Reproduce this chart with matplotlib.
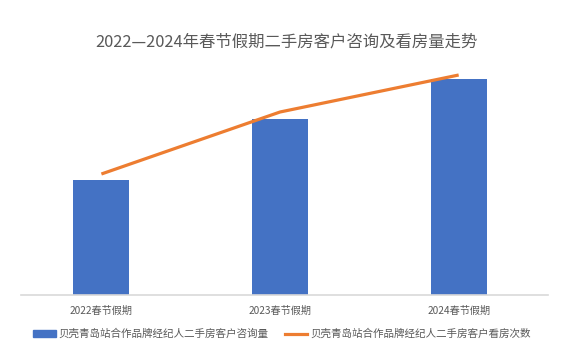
import matplotlib
matplotlib.use("Agg")
import matplotlib.pyplot as plt
from matplotlib.patches import Patch
from matplotlib.lines import Line2D

plt.rcParams['font.family'] = ['Noto Sans CJK SC', 'DejaVu Sans']

categories = ["2022春节假期", "2023春节假期", "2024春节假期"]
consult_values = [115, 176, 216]
viewing_values = [121, 183, 220]
series_names = ["贝壳青岛站合作品牌经纪人二手房客户咨询量", "贝壳青岛站合作品牌经纪人二手房客户看房次数"]
title = "2022—2024年春节假期二手房客户咨询及看房量走势"

blue = "#4472C4"
orange = "#ED7D31"

fig = plt.figure(figsize=(5.71, 3.6), dpi=100)
ax = fig.add_axes([21/571, 65/360, 527/571, 240/360])
x = list(range(len(categories)))
ax.bar(x, consult_values, width=0.314, color=blue, zorder=2)
ax.plot(x, viewing_values, color=orange, linewidth=2.3, solid_capstyle='butt', zorder=3)
ax.set_xlim(-0.45, 2.5)
ax.set_ylim(0, 240)
for s in ['top', 'right', 'left']:
    ax.spines[s].set_visible(False)
ax.spines['bottom'].set_color('#D9D9D9')
ax.spines['bottom'].set_linewidth(1.2)
ax.set_yticks([])
ax.set_xticks(x)
ax.set_xticklabels(categories, fontsize=7.3, color='#595959')
ax.tick_params(axis='x', length=0, pad=8)

fig.text(287/571, 1 - 42.5/360, title, ha='center', va='center', fontsize=11.8, color='#595959')

handles = [Patch(color=blue), Line2D([0], [0], color=orange, linewidth=2.3)]
fig.legend(handles, series_names, loc='center', bbox_to_anchor=(282/571, 1 - 334/360),
           ncol=2, frameon=False, fontsize=7.6, labelcolor='#595959',
           handlelength=2.1, handletextpad=0.3, columnspacing=1.5)

fig.savefig("out.png", dpi=100)
